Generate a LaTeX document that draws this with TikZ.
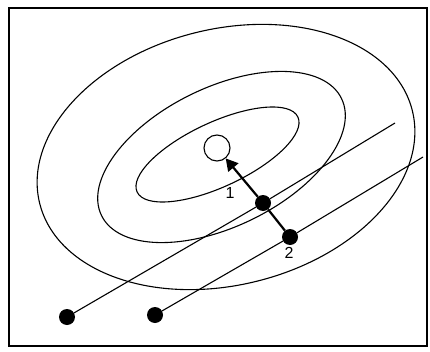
\documentclass[tikz,border=0pt]{standalone}
\usepackage{fontspec}
\setmainfont{Liberation Sans}
\usetikzlibrary{arrows.meta,positioning}
\tikzset{
  contour/.style={line width=1.1pt,black},
  dot/.style={circle,fill=black,inner sep=0pt,minimum size=16pt},
  optimum/.style={circle,draw=black,line width=1.1pt,inner sep=0pt,minimum size=26pt},
  track/.style={line width=1.1pt,black},
  stepline/.style={line width=2.2pt,black},
  steparrow/.style={-{Triangle[length=12pt,width=13pt]},line width=2.2pt,black},
  numlabel/.style={font=\fontsize{16}{16}\selectfont,inner sep=0pt}
}
\begin{document}
\begin{tikzpicture}[x=1pt,y=1pt]
  \useasboundingbox (0,0) rectangle (430,351);
  \draw[line width=2.4pt] (9,5) rectangle (427,343);
  % contour lines
  \draw[contour,rotate around={14:(226,194)}] (226,194) ellipse [x radius=192,y radius=128];
  \draw[contour,rotate around={26:(221.5,194)}] (221.5,194) ellipse [x radius=133.5,y radius=69.5];
  \draw[contour,rotate around={25:(217.5,196.5)}] (217.5,196.5) ellipse [x radius=88.7,y radius=32.2];
  \node[optimum] (opt) at (217,203) {};
  % search lines
  \node[dot] (start1) at (67,34) {};
  \node[dot] (start2) at (155,36) {};
  \node[dot] (pt1) at (263,148) {};
  \node[dot] (pt2) at (290,114) {};
  \coordinate (end1) at (395,228);
  \coordinate (end2) at (423,194);
  \draw[track] (start1) -- (pt1) -- (end1);
  \draw[track] (start2) -- (pt2) -- (end2);
  \draw[stepline] (pt2) -- (pt1);
  \draw[steparrow] (pt1) -- (opt);
  \node[numlabel] (lab1) at (230,158) {1};
  \node[numlabel] (lab2) at (289,98) {2};
\end{tikzpicture}
\end{document}
